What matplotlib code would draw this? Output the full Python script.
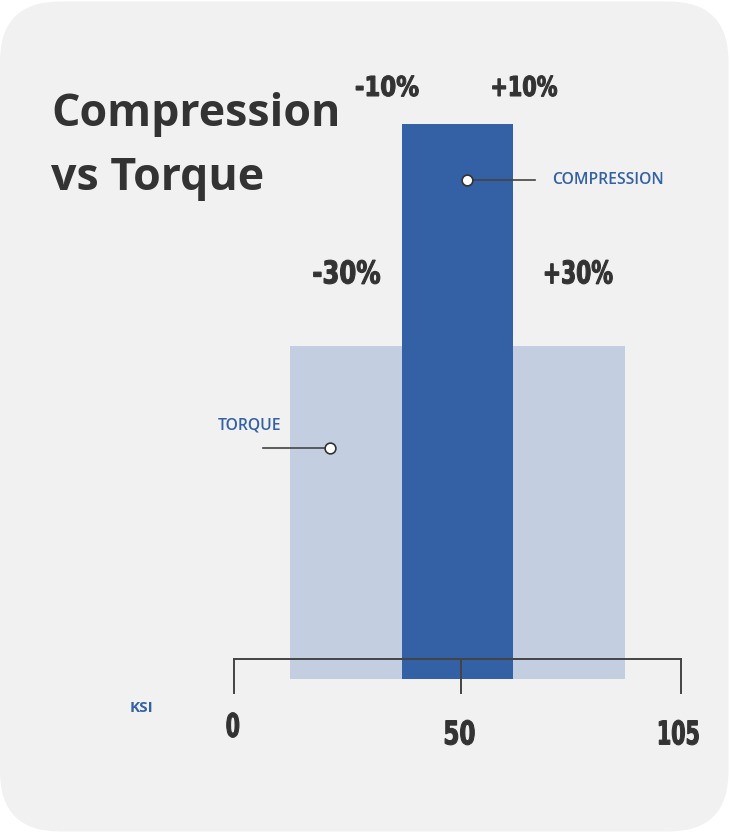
import matplotlib
matplotlib.use("Agg")
import matplotlib.pyplot as plt
from matplotlib.patches import FancyBboxPatch, PathPatch
from matplotlib.textpath import TextPath
from matplotlib.font_manager import FontProperties
from matplotlib.transforms import Affine2D

# data
series = ["TORQUE", "COMPRESSION"]
tolerance = [30, 10]          # +/- percent band around nominal
heights = [60, 100]           # relative bar heights
tick_pos = [-40, 0.7, 40]
tick_labels = ["0", "50", "105"]
unit = "KSI"

dark_blue = "#3461a6"
light_blue = "#c3cfe1"
text_dark = "#333333"
line_col = "#444444"
bg = "#f1f1f1"

W, H = 731, 833
fig = plt.figure(figsize=(W / 100, H / 100), dpi=100)
fig.patch.set_facecolor("white")
ax = fig.add_axes([0, 0, 1, 1])

# x=-40 at 234px, x=40 at 680px; y=0 at 679px, y=100 at 124px
sx = (680 - 234) / 80
sy = (679 - 124) / 100
x0 = 457.5
ax.set_xlim(-x0 / sx, (W - x0) / sx)
ax.set_ylim(-(H - 679) / sy, 679 / sy)
ax.axis("off")

bold = FontProperties(family="DejaVu Sans", weight="bold")


def ctext(xd, yd, s, w_px, h_px):
    # condensed bold label, its box centred on (xd, yd) and sized in pixels
    p = TextPath((0, 0), s, size=40, prop=bold)
    bb = p.get_extents()
    w_px -= 0.8
    h_px -= 0.8
    tr = (Affine2D().translate(-(bb.x0 + bb.x1) / 2, -(bb.y0 + bb.y1) / 2)
          .scale(w_px / bb.width / sx, h_px / bb.height / sy)
          .translate(xd, yd) + ax.transData)
    ax.add_patch(PathPatch(p, transform=tr, facecolor=text_dark,
                           edgecolor=text_dark, lw=0.8, zorder=7))


# rounded panel
r = 60 / sx
asp = sx / sy
panel = FancyBboxPatch((-x0 / sx + r, -(H - 679) / sy + 1.5 / sy + r * asp),
                       728.5 / sx - 2 * r, 830 / sy - 2 * r * asp,
                       boxstyle=f"round,pad={r}", mutation_aspect=asp,
                       facecolor=bg, edgecolor="none", zorder=0)
ax.add_patch(panel)

# bars
ax.bar(0, heights[0], width=2 * tolerance[0], color=light_blue, zorder=2)
ax.bar(0, heights[1], width=2 * tolerance[1], color=dark_blue, zorder=3)

# axis bracket
ya = 20 / sy
yt = -14 / sy
ax.plot([tick_pos[0], tick_pos[-1]], [ya, ya], color=line_col, lw=1.4, zorder=4)
for tp in tick_pos:
    ax.plot([tp, tp], [ya, yt], color=line_col, lw=1.4, zorder=4)
label_y = [-46, -53.5, -53.5]
label_w = [13, 30, 40]
for tp, tl, ly, lw_ in zip(tick_pos, tick_labels, label_y, label_w):
    ctext(tp - 0.3, ly / sy, tl, lw_, 25.5)
ax.text((142 - x0) / sx, -28.5 / sy, unit, fontsize=11, fontweight="bold",
        family="Open Sans", color=dark_blue, ha="center", va="center")

# percent labels at the band edges
pct = {10: dict(y=(679 - 86) / sy, h=21.5, wl=63, wr=65, dl=-14.5, dr=11.5),
       30: dict(y=(679 - 272) / sy, h=24.5, wl=67, wr=68, dl=56.5, dr=-46)}
for t in tolerance:
    c = pct[t]
    ctext(-t + c["dl"] / sx, c["y"], f"-{t}%", c["wl"], c["h"])
    ctext(t + c["dr"] / sx, c["y"], f"+{t}%", c["wr"], c["h"])

# callouts
cy = (679 - 180) / sy
cx = (467 - x0) / sx
ax.plot([cx, (535 - x0) / sx], [cy, cy], color=line_col, lw=1.2, zorder=5)
ax.scatter([cx], [cy], s=60, facecolor="white", edgecolor="#333333", lw=1.2, zorder=6)
ax.text((552 - x0) / sx, cy, series[1], family="Open Sans", fontweight="semibold",
        fontsize=11.3, color=dark_blue, ha="left", va="center")

ty = (679 - 448) / sy
tx = (330 - x0) / sx
ax.plot([(263 - x0) / sx, tx], [ty, ty], color=line_col, lw=1.2, zorder=5)
ax.scatter([tx], [ty], s=60, facecolor="white", edgecolor="#333333", lw=1.2, zorder=6)
ax.text((218 - x0) / sx, (679 - 425) / sy, series[0], family="Open Sans",
        fontweight="semibold", fontsize=11.3, color=dark_blue, ha="left", va="center")

# title
fig.text(51 / W, 1 - 126 / H, "Compression", family="Open Sans", fontweight="bold",
         fontsize=32.2, color=text_dark, ha="left", va="baseline")
fig.text(51 / W, 1 - 190 / H, "vs Torque", family="Open Sans", fontweight="bold",
         fontsize=32.2, color=text_dark, ha="left", va="baseline")

fig.savefig("out.png", dpi=100, facecolor="white")
